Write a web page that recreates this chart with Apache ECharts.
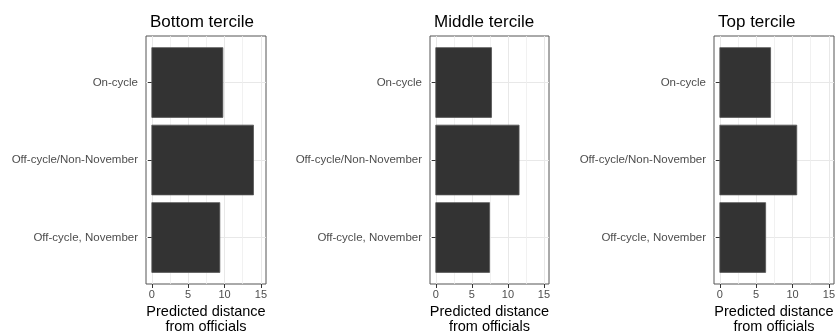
<!DOCTYPE html>
<html>
<head>
<meta charset="utf-8">
<script src="https://cdn.jsdelivr.net/npm/echarts@6/dist/echarts.min.js"></script>
<style>
html,body{margin:0;padding:0;background:#fff;}
#chart{width:835px;height:335px;}
</style>
</head>
<body>
<div id="chart"></div>
<script>
const panelTitles = ['Bottom tercile', 'Middle tercile', 'Top tercile'];
const categories = ['Off-cycle, November', 'Off-cycle/Non-November', 'On-cycle']; // bottom to top
const categoryPositions = [1, 2, 3];
const bottomValues = [9.35, 13.98, 9.77];
const middleValues = [7.46, 11.55, 7.73];
const topValues = [6.3, 10.58, 6.98];
const xTicks = [0, 5, 10, 15];
const xMinorTicks = [2.5, 7.5, 12.5];
const xAxisTitle = 'Predicted distance\nfrom officials';

const seriesValues = [bottomValues, middleValues, topValues];
const panelLeft = [146, 430, 714];
const panelWidth = [120, 119, 120];
const FONT = '"Liberation Sans", Arial, sans-serif';
const BAR_FRACTION = 0.9;

const chart = echarts.init(document.getElementById('chart'), null, {renderer: 'canvas'});

const grids = [], xAxes = [], yAxes = [], series = [], titles = [];
for (let i = 0; i < 3; i++) {
  grids.push({
    left: panelLeft[i], width: panelWidth[i], top: 36, height: 248,
    show: true, borderColor: '#555', borderWidth: 1, backgroundColor: 'transparent',
    containLabel: false, outerBoundsMode: 'none'
  });
  titles.push({
    text: panelTitles[i], left: panelLeft[i] - 1, top: 9,
    textStyle: {fontFamily: FONT, fontSize: 17, fontWeight: 'normal', color: '#000'}
  });
  xAxes.push({
    type: 'value', gridIndex: i, min: -0.8, max: 15.7,
    axisLine: {show: false},
    axisTick: {show: true, length: 4, lineStyle: {color: '#333', width: 1}, customValues: xTicks},
    axisLabel: {show: true, customValues: xTicks, margin: 5, fontFamily: FONT, fontSize: 11, color: '#4d4d4d'},
    splitLine: {show: true, lineStyle: {color: '#e8e8e8', width: 1}},
    name: xAxisTitle, nameLocation: 'middle', nameGap: 20,
    nameTextStyle: {fontFamily: FONT, fontSize: 14.5, color: '#000', lineHeight: 15, verticalAlign: 'top'}
  });
  xAxes.push({
    type: 'value', gridIndex: i, min: -0.8, max: 15.7, position: 'bottom',
    axisLine: {show: false},
    axisTick: {show: false, customValues: xMinorTicks},
    axisLabel: {show: false, customValues: xMinorTicks},
    splitLine: {show: true, lineStyle: {color: '#ededed', width: 0.8}}
  });
  yAxes.push({
    type: 'value', gridIndex: i, min: 0.4, max: 3.6,
    axisLine: {show: false},
    axisTick: {show: true, length: 4, lineStyle: {color: '#333', width: 1}, customValues: categoryPositions},
    axisLabel: {show: true, customValues: categoryPositions, margin: 8, fontFamily: FONT, fontSize: 11.5, color: '#4d4d4d',
      formatter: v => categories[categoryPositions.indexOf(Math.round(v))] || ''},
    splitLine: {show: true, lineStyle: {color: '#e8e8e8', width: 1}}
  });
  series.push({
    type: 'custom', xAxisIndex: i * 2, yAxisIndex: i,
    silent: true, animation: false,
    encode: {x: 0, y: 1},
    data: seriesValues[i].map((v, k) => [v, categoryPositions[k]]),
    renderItem: function (params, api) {
      const end = api.coord([api.value(0), api.value(1)]);
      const start = api.coord([0, api.value(1)]);
      const h = api.size([0, BAR_FRACTION])[1];
      return {
        type: 'rect',
        shape: {x: start[0], y: end[1] - h / 2, width: end[0] - start[0], height: h},
        style: {fill: '#333333', stroke: '#555555', lineWidth: 0.8}
      };
    }
  });
}

chart.setOption({
  animation: false,
  title: titles,
  grid: grids,
  xAxis: xAxes,
  yAxis: yAxes,
  series: series
});
</script>
</body>
</html>
